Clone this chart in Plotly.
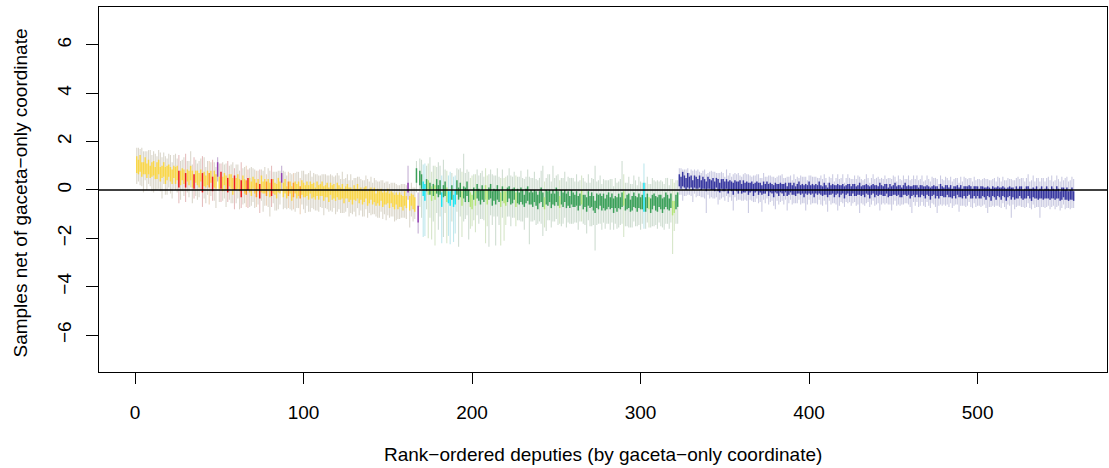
import plotly.graph_objects as go

# ---------------- data ----------------
# party codes per deputy, rank-ordered
party_a = ("YYYYYYYYYY" "YYYYYYYYYY" "YYYYYRYYYR" "YYYYRYYYYR" "YYYOYRYYPY"
           "RYYYRYYYRY" "YYRYYORYYY" "YOYRYYYOYY" "RYYYYYPYYY" "OYYOYYYOYY"
           "YYYYYYYYYY" "YYYYYYYYYY" "YYYYYYYYYY" "YYYYYYYYYY" "YYYYYYYYYY"
           "YYYYYYYYYY" "YPYYYY")
party_b = ("GPGGCCGLGL" "GLGGGCGGLC" "CGCCGGGLGG" "GGLLGLGGGG" "GLLGGGGGGG"
           "LGLLGGGGGL" "GGGGGGGGGG" "GGGGGGLGGG" "GGGGGLGGGG" "GGGGGGGGLG"
           "GGGGGGGGGG" "GGGGGGGGGG" "GGGLGGGGGG" "GGGGGCGGLG" "GGGGGGGGGG"
           "GGLLGG")
n_blue = 235

# centre of the inner interval
mid_a = [1.05,0.95,1.10,0.85,0.90,1.00,0.80,0.95,0.75,0.85,
         0.90,0.70,0.80,0.95,0.65,0.75,0.85,0.60,0.70,0.80,
         0.65,0.55,0.75,0.60,0.70,0.45,0.50,0.65,0.55,0.40,
         0.60,0.50,0.70,0.45,0.35,0.55,0.50,0.40,0.60,0.30,
         0.45,0.35,0.50,0.40,0.55,0.25,0.45,0.35,0.85,0.30,
         0.40,0.25,0.45,0.30,0.20,0.40,0.35,0.15,0.30,0.25,
         0.35,0.20,0.05,0.30,0.15,0.10,0.25,0.20,0.05,0.30,
         0.15,0.00,0.20,-0.05,0.25,0.10,0.15,0.05,0.20,0.00,
         0.10,0.15,0.05,-0.05,0.20,0.10,0.50,0.00,0.15,-0.10,
         0.05,0.10,-0.15,0.00,0.10,-0.05,0.05,-0.10,0.10,0.00,
         -0.05,0.05,-0.10,0.10,-0.05,0.00,-0.15,0.05,-0.10,0.00,
         0.05,-0.15,-0.05,0.00,-0.20,0.05,-0.10,-0.05,-0.20,0.00,
         -0.10,-0.15,-0.05,-0.25,-0.10,-0.05,-0.20,-0.15,-0.30,-0.10,
         -0.20,-0.05,-0.25,-0.15,-0.30,-0.20,-0.10,-0.35,-0.25,-0.15,
         -0.30,-0.20,-0.40,-0.25,-0.35,-0.20,-0.40,-0.30,-0.35,-0.25,
         -0.45,-0.30,-0.40,-0.50,-0.35,-0.50,-0.40,-0.45,-0.55,-0.35,
         -0.50,0.10,-0.55,-0.40,-0.50,-0.60]
mid_b = [0.60,-1.00,0.50,0.35,0.05,-0.10,0.20,0.10,0.05,-0.15,
         0.00,-0.10,0.15,-0.05,0.10,-0.40,-0.05,0.05,-0.20,-0.30,
         -0.35,-0.10,-0.45,-0.30,0.10,-0.15,0.00,-0.35,-0.10,-0.20,
         0.05,-0.25,-0.40,-0.50,-0.15,-0.35,-0.05,-0.20,-0.30,-0.10,
         -0.25,-0.10,-0.30,-0.15,-0.05,-0.35,-0.20,-0.30,-0.10,-0.25,
         -0.40,-0.15,-0.30,-0.35,-0.20,-0.10,-0.30,-0.25,-0.15,-0.40,
         -0.25,-0.35,-0.20,-0.30,-0.45,-0.25,-0.15,-0.35,-0.30,-0.40,
         -0.25,-0.35,-0.50,-0.30,-0.20,-0.40,-0.55,-0.30,-0.35,-0.25,
         -0.45,-0.30,-0.40,-0.20,-0.35,-0.50,-0.30,-0.40,-0.25,-0.45,
         -0.35,-0.50,-0.30,-0.40,-0.45,-0.35,-0.55,-0.40,-0.30,-0.50,
         -0.45,-0.60,-0.35,-0.50,-0.40,-0.55,-0.70,-0.45,-0.50,-0.40,
         -0.55,-0.45,-0.60,-0.50,-0.40,-0.55,-0.45,-0.65,-0.50,-0.60,
         -0.45,-0.55,-0.40,-0.35,-0.60,-0.50,-0.45,-0.65,-0.55,-0.40,
         -0.50,-0.60,-0.45,-0.55,-0.50,-0.30,-0.60,-0.45,-0.55,-0.65,
         -0.50,-0.40,-0.55,-0.60,-0.45,-0.50,-0.65,-0.55,-0.40,-0.50,
         -0.60,-0.45,-0.75,-0.70,-0.50,-0.40]
mid_c = [0.40,0.30,0.45,0.35,0.25,0.40,0.30,0.35,0.20,0.35,
         0.30,0.25,0.35,0.20,0.30,0.25,0.15,0.30,0.25,0.20,
         0.25,0.15,0.30,0.20,0.10,0.25,0.20,0.15,0.25,0.10,
         0.20,0.15,0.05,0.20,0.15,0.10,0.20,0.05,0.15,0.10,
         0.15,0.05,0.10,0.15,0.00,0.10,0.15,0.05,0.10,0.00,
         0.10,0.05,0.15,0.00,0.10,0.05,-0.05,0.10,0.05,0.00,
         0.10,0.05,0.00,0.10,-0.05,0.05,0.10,0.00,0.05,-0.05,
         0.05,0.10,0.00,0.05,-0.05,0.05,0.00,0.10,0.00,0.05,
         -0.05,0.05,0.00,0.10,0.00,-0.05,0.05,0.00,-0.10,0.05,
         0.00,0.05,-0.05,0.00,0.05,-0.05,0.00,0.05,-0.10,0.00,
         0.05,0.00,-0.05,0.05,0.00,-0.05,0.00,0.05,-0.05,0.00,
         -0.05,0.05,0.00,-0.10,0.00,0.05,-0.05,0.00,-0.05,0.05,
         0.00,-0.05,0.00,0.05,-0.10,0.00,-0.05,0.00,0.05,-0.05,
         0.00,-0.05,-0.10,0.00,0.05,-0.05,0.00,-0.10,-0.05,0.00,
         -0.05,0.00,-0.10,-0.05,0.00,-0.05,-0.10,0.00,-0.05,-0.15,
         -0.05,0.00,-0.10,-0.05,-0.15,0.00,-0.05,-0.10,-0.05,0.00,
         -0.10,-0.05,-0.15,-0.05,-0.10,0.00,-0.10,-0.05,-0.15,-0.05,
         -0.10,-0.05,0.00,-0.10,-0.15,-0.05,-0.10,-0.05,-0.15,-0.10,
         -0.05,-0.10,-0.15,-0.05,-0.10,-0.20,-0.05,-0.10,-0.15,-0.05,
         -0.10,-0.15,-0.05,-0.10,-0.20,-0.10,-0.05,-0.15,-0.10,-0.20,
         -0.10,-0.15,-0.05,-0.10,-0.20,-0.15,-0.10,-0.05,-0.15,-0.20,
         -0.10,-0.15,-0.10,-0.20,-0.15,-0.10,-0.20,-0.15,-0.10,-0.15,
         -0.20,-0.10,-0.15,-0.20,-0.10,-0.15,-0.25,-0.15,-0.10,-0.20,
         -0.15,-0.25,-0.20,-0.15,-0.25]

# half-length of the inner (thick) interval
half_a = [0.35,0.3,0.35,0.3,0.25,0.35,0.3,0.3,0.25,0.3,
          0.3,0.25,0.35,0.3,0.3,0.25,0.3,0.35,0.3,0.25,
          0.3,0.3,0.25,0.35,0.3,0.35,0.3,0.25,0.3,0.3,
          0.25,0.3,0.3,0.35,0.3,0.25,0.3,0.3,0.25,0.4,
          0.3,0.25,0.3,0.3,0.25,0.3,0.35,0.3,0.3,0.25,
          0.35,0.3,0.25,0.3,0.3,0.25,0.3,0.35,0.3,0.25,
          0.3,0.25,0.35,0.3,0.3,0.3,0.25,0.3,0.3,0.25,
          0.3,0.3,0.25,0.3,0.35,0.25,0.3,0.3,0.25,0.3,
          0.35,0.3,0.25,0.3,0.3,0.25,0.2,0.3,0.3,0.25,
          0.3,0.25,0.3,0.3,0.25,0.3,0.3,0.25,0.3,0.3,
          0.25,0.3,0.3,0.25,0.3,0.3,0.25,0.3,0.3,0.25,
          0.3,0.3,0.25,0.3,0.3,0.25,0.3,0.3,0.25,0.3,
          0.3,0.25,0.3,0.3,0.25,0.3,0.3,0.25,0.3,0.3,
          0.25,0.3,0.3,0.25,0.3,0.3,0.25,0.3,0.3,0.25,
          0.3,0.3,0.25,0.3,0.3,0.25,0.3,0.3,0.25,0.3,
          0.3,0.25,0.3,0.3,0.25,0.3,0.3,0.25,0.3,0.3,
          0.25,0.2,0.3,0.25,0.3,0.3]
half_b = [0.3,0.35,0.3,0.3,0.3,0.35,0.25,0.3,0.25,0.3,
          0.25,0.3,0.3,0.25,0.3,0.3,0.25,0.3,0.3,0.25,
          0.3,0.3,0.25,0.3,0.3,0.25,0.3,0.3,0.25,0.3,
          0.3,0.25,0.3,0.3,0.25,0.3,0.3,0.25,0.3,0.3,
          0.25,0.3,0.3,0.25,0.3,0.3,0.25,0.3,0.3,0.25,
          0.3,0.3,0.25,0.3,0.3,0.25,0.3,0.3,0.25,0.3,
          0.3,0.25,0.3,0.3,0.25,0.3,0.3,0.25,0.3,0.3,
          0.25,0.3,0.3,0.25,0.3,0.3,0.25,0.3,0.3,0.25,
          0.3,0.3,0.25,0.3,0.3,0.25,0.3,0.3,0.25,0.3,
          0.3,0.25,0.3,0.3,0.25,0.3,0.3,0.25,0.3,0.3,
          0.25,0.3,0.3,0.25,0.3,0.3,0.25,0.3,0.3,0.25,
          0.3,0.3,0.25,0.3,0.3,0.25,0.3,0.3,0.25,0.3,
          0.3,0.25,0.3,0.3,0.25,0.3,0.3,0.25,0.3,0.3,
          0.25,0.3,0.3,0.25,0.3,0.6,0.3,0.3,0.25,0.3,
          0.3,0.25,0.3,0.3,0.25,0.3,0.3,0.25,0.3,0.3,
          0.25,0.3,0.3,0.25,0.3,0.3]
half_c = [0.25,0.25,0.3,0.25,0.25,0.3,0.25,0.25,0.2,0.25,
          0.25,0.2,0.25,0.2,0.25,0.2,0.2,0.25,0.2,0.2,
          0.25,0.2,0.2,0.25,0.2,0.2,0.25,0.2,0.2,0.25,
          0.2,0.2,0.25,0.2,0.2,0.25,0.2,0.2,0.25,0.2,
          0.2,0.25,0.2,0.2,0.25,0.2,0.2,0.25,0.2,0.2,
          0.25,0.2,0.2,0.25,0.2,0.2,0.25,0.2,0.2,0.25,
          0.2,0.2,0.25,0.2,0.2,0.25,0.2,0.2,0.25,0.2,
          0.2,0.25,0.2,0.2,0.25,0.2,0.2,0.25,0.2,0.2,
          0.25,0.2,0.2,0.25,0.2,0.2,0.25,0.2,0.2,0.25,
          0.2,0.2,0.25,0.2,0.2,0.25,0.2,0.2,0.25,0.2,
          0.2,0.25,0.2,0.2,0.25,0.2,0.2,0.25,0.2,0.2,
          0.25,0.2,0.2,0.25,0.2,0.2,0.25,0.2,0.2,0.25,
          0.2,0.2,0.25,0.2,0.2,0.25,0.2,0.2,0.25,0.2,
          0.2,0.25,0.2,0.2,0.25,0.2,0.2,0.25,0.2,0.2,
          0.25,0.2,0.2,0.25,0.2,0.2,0.25,0.2,0.2,0.25,
          0.2,0.2,0.25,0.2,0.2,0.25,0.2,0.2,0.25,0.2,
          0.2,0.25,0.2,0.2,0.25,0.2,0.2,0.25,0.2,0.2,
          0.25,0.2,0.2,0.25,0.2,0.2,0.25,0.2,0.2,0.25,
          0.2,0.2,0.25,0.2,0.2,0.25,0.2,0.2,0.25,0.2,
          0.2,0.25,0.2,0.2,0.25,0.2,0.2,0.25,0.2,0.2,
          0.25,0.2,0.2,0.25,0.2,0.2,0.25,0.2,0.2,0.25,
          0.2,0.2,0.25,0.2,0.2,0.25,0.2,0.2,0.25,0.2,
          0.2,0.25,0.2,0.2,0.25,0.2,0.2,0.25,0.2,0.2,
          0.25,0.2,0.2,0.25,0.2]

# extent of the outer (thin) interval above / below the centre
up_a = [0.7,0.8,0.6,0.9,0.7,0.6,0.8,0.7,0.9,0.6,
        0.7,0.8,0.6,0.7,0.9,0.6,0.7,0.8,0.6,0.7,
        0.8,0.6,0.7,0.9,0.6,1.0,0.7,0.6,0.8,1.1,
        0.6,0.7,0.9,0.6,1.0,0.7,0.6,0.8,0.7,1.1,
        0.9,0.6,0.7,0.8,0.6,1.0,0.7,0.6,0.5,0.8,
        0.7,0.9,0.6,0.8,1.0,0.6,0.7,1.0,0.6,0.8,
        0.7,0.6,1.1,0.6,0.8,0.9,0.6,0.7,0.9,0.6,
        0.7,0.8,0.6,0.9,0.6,0.7,0.8,0.6,0.7,0.8,
        0.9,0.6,0.7,0.8,0.6,0.7,0.5,0.8,0.6,0.7,
        0.7,0.6,0.8,0.7,0.6,0.8,0.7,0.6,0.7,0.8,
        0.7,0.6,0.8,0.7,0.6,0.7,0.8,0.6,0.7,0.6,
        0.6,0.8,0.7,0.6,0.8,0.6,0.7,0.6,0.8,0.7,
        0.7,0.6,0.8,0.7,0.6,0.7,0.6,0.8,0.7,0.6,
        0.7,0.6,0.8,0.6,0.7,0.6,0.7,0.8,0.6,0.7,
        0.6,0.7,0.8,0.6,0.7,0.6,0.8,0.6,0.7,0.6,
        0.7,0.6,0.7,0.8,0.6,0.7,0.6,0.7,0.8,0.6,
        0.7,0.9,0.6,0.7,0.6,0.7]
down_a = [0.8,0.6,0.9,0.7,1.0,0.6,0.8,0.7,0.6,0.9,
          1.0,0.7,0.8,0.9,0.7,1.1,0.6,0.8,0.9,0.7,
          0.8,0.9,0.7,0.6,0.8,1.0,0.9,0.7,0.8,0.9,
          0.7,0.8,0.6,1.0,0.7,0.8,0.9,0.7,0.6,1.0,
          0.8,0.9,0.7,1.0,0.8,0.7,0.9,1.1,0.5,0.8,
          0.9,0.7,0.8,1.0,0.7,0.8,0.9,0.7,1.1,0.8,
          0.7,1.0,0.8,0.9,0.7,0.8,1.0,0.9,0.7,0.8,
          0.9,0.7,0.8,0.9,0.7,1.0,0.8,0.7,0.9,1.1,
          0.8,0.7,0.9,0.8,1.0,0.7,0.5,0.8,0.9,0.7,
          0.8,0.9,0.7,0.8,1.0,0.7,0.8,0.9,0.7,0.8,
          0.9,0.7,0.8,1.0,0.7,0.8,0.7,0.9,0.8,0.7,
          0.8,0.9,0.7,0.8,0.7,0.9,0.8,0.7,0.8,0.9,
          0.7,0.8,0.9,0.7,0.8,0.7,0.9,0.8,0.7,0.8,
          0.9,0.7,0.8,0.7,0.8,0.9,0.7,0.8,0.7,0.9,
          0.7,0.8,0.7,0.9,0.8,0.7,0.8,0.7,0.9,0.8,
          0.7,0.8,0.7,0.8,0.9,0.7,0.8,0.7,0.6,0.8,
          0.7,0.5,1.0,0.7,0.8,0.6]
up_b = [0.6,0.9,0.8,0.9,1.0,1.2,0.8,1.0,1.3,0.9,
        1.0,1.1,0.8,1.2,0.9,1.0,1.3,0.8,1.0,0.9,
        1.1,0.8,1.0,0.9,0.8,1.0,0.9,1.1,1.6,0.9,
        0.8,1.0,0.9,1.1,0.8,1.0,0.9,0.8,1.0,0.9,
        0.8,1.0,0.9,0.8,0.9,1.0,0.8,0.9,1.0,0.8,
        0.9,1.0,0.8,0.9,0.8,1.0,0.9,0.8,0.9,1.0,
        0.8,0.9,1.0,0.8,0.9,0.8,1.0,0.9,0.8,0.9,
        1.0,0.8,0.9,0.8,1.0,1.4,0.9,0.8,1.0,0.9,
        0.8,1.3,0.9,0.8,1.0,0.9,0.8,0.9,1.0,0.8,
        0.9,1.0,0.8,0.9,0.8,1.0,0.9,0.8,0.9,1.0,
        0.8,0.9,1.0,0.8,0.9,1.0,1.7,0.8,0.9,1.0,
        0.8,0.9,1.0,0.9,0.8,1.0,0.9,0.8,1.0,0.9,
        0.8,1.0,1.6,1.0,0.9,0.8,1.0,0.9,0.8,1.0,
        0.9,0.8,1.0,0.9,0.8,1.4,0.9,1.0,0.8,0.9,
        1.0,0.8,0.9,1.0,0.8,0.9,1.0,0.8,0.9,1.0,
        0.8,0.9,1.2,1.0,0.9,0.8]
down_b = [0.7,0.8,1.2,1.5,2.0,1.8,1.0,2.1,1.2,1.9,
          1.3,2.2,1.1,1.6,1.2,1.8,1.9,1.0,2.0,1.6,
          1.9,1.2,1.7,1.5,1.0,2.2,1.1,1.6,1.2,1.0,
          1.1,1.8,1.2,1.0,1.1,1.4,1.0,1.2,0.9,1.1,
          1.0,2.1,1.2,2.2,1.0,1.1,0.9,2.0,1.0,1.2,
          1.9,1.0,1.8,1.1,0.9,1.0,1.2,0.9,1.0,1.1,
          1.0,0.9,1.1,1.0,1.2,0.9,1.0,1.9,1.0,0.9,
          1.0,1.1,0.9,1.0,1.2,1.5,1.0,1.4,0.9,1.0,
          1.1,1.0,0.9,1.0,1.1,0.9,1.2,1.0,0.9,1.1,
          1.0,0.9,1.1,1.0,0.9,1.0,1.1,0.9,1.0,0.9,
          1.0,1.2,0.9,1.0,1.1,0.9,1.8,1.0,0.9,1.0,
          1.1,0.9,1.0,0.9,1.0,1.1,0.9,1.0,0.9,1.0,
          1.1,0.9,1.0,1.6,0.9,1.0,1.1,0.9,1.0,0.9,
          1.0,0.9,1.0,1.1,0.9,1.3,1.0,0.9,1.0,0.9,
          1.0,1.1,0.9,1.0,0.9,1.0,0.9,1.1,1.0,0.9,
          1.0,0.9,1.9,1.0,0.9,1.0]
up_c = [0.5,0.6,0.4,0.5,0.6,0.5,0.4,0.5,0.6,0.5,
        0.5,0.6,0.4,0.5,0.5,0.6,0.5,0.4,0.5,0.6,
        0.5,0.6,0.4,0.5,0.6,0.5,0.5,0.4,0.6,0.5,
        0.5,0.4,0.6,0.5,0.5,0.6,0.4,0.5,0.5,0.6,
        0.5,0.6,0.5,0.4,0.6,0.5,0.5,0.6,0.4,0.5,
        0.6,0.5,0.4,0.6,0.5,0.5,0.6,0.4,0.5,0.6,
        0.5,0.6,0.5,0.4,0.6,0.5,0.5,0.4,0.6,0.5,
        0.5,0.4,0.6,0.5,0.6,0.5,0.4,0.5,0.6,0.5,
        0.6,0.5,0.5,0.4,0.6,0.5,0.6,0.5,0.4,0.5,
        0.5,0.6,0.4,0.5,0.6,0.5,0.5,0.6,0.4,0.5,
        0.6,0.5,0.5,0.4,0.6,0.5,0.6,0.5,0.5,0.4,
        0.5,0.6,0.5,0.4,0.5,0.6,0.5,0.5,0.6,0.4,
        0.5,0.5,0.6,0.4,0.6,0.5,0.5,0.6,0.5,0.4,
        0.6,0.5,0.5,0.6,0.4,0.5,0.6,0.5,0.5,0.6,
        0.5,0.6,0.5,0.5,0.6,0.4,0.5,0.6,0.5,0.5,
        0.6,0.5,0.6,0.5,0.4,0.6,0.5,0.5,0.6,0.5,
        0.5,0.6,0.5,0.5,0.6,0.5,0.4,0.6,0.5,0.6,
        0.6,0.5,0.5,0.6,0.5,0.6,0.5,0.5,0.6,0.5,
        0.5,0.6,0.6,0.5,0.5,0.6,0.5,0.6,0.5,0.6,
        0.6,0.5,0.6,0.5,0.6,0.6,0.5,0.6,0.5,0.6,
        0.6,0.7,0.5,0.6,0.7,0.5,0.6,0.7,0.5,0.6,
        0.7,0.5,0.6,0.7,0.5,0.6,0.7,0.5,0.6,0.7,
        0.6,0.7,0.5,0.6,0.7,0.6,0.6,0.7,0.5,0.7,
        0.7,0.6,0.6,0.7,0.7]
down_c = [0.6,0.5,0.9,0.6,0.5,0.6,0.5,0.6,0.7,0.5,
          0.6,0.5,0.6,0.5,0.6,0.6,1.1,0.5,0.6,0.5,
          0.6,0.5,0.6,0.8,0.5,0.6,0.5,0.6,0.5,0.6,
          0.5,0.6,0.9,0.5,0.6,0.5,0.6,0.5,0.6,0.5,
          0.6,1.0,0.5,0.6,0.5,0.6,0.5,0.6,0.6,0.9,
          0.5,0.6,0.5,0.6,0.6,0.5,0.6,0.9,0.5,0.6,
          0.6,0.5,0.6,0.5,0.8,0.6,0.5,0.6,0.6,0.5,
          0.6,0.5,0.6,0.6,0.5,0.9,0.6,0.5,0.6,0.6,
          0.5,0.6,0.6,0.5,0.6,0.6,0.5,0.6,0.8,0.5,
          0.6,0.6,0.5,0.6,0.9,0.6,0.5,0.6,0.6,0.5,
          0.6,0.5,0.6,0.6,0.5,0.6,0.6,1.0,0.5,0.6,
          0.6,0.6,0.5,0.6,0.6,0.5,0.6,0.6,0.5,0.9,
          0.6,0.5,0.6,0.6,0.5,0.6,0.8,0.6,0.5,0.6,
          0.6,0.6,0.5,0.6,0.6,0.5,0.6,0.6,0.9,0.5,
          0.6,0.5,0.6,0.6,0.5,0.6,0.6,0.5,0.6,0.6,
          0.5,0.6,0.6,0.9,0.5,0.6,0.6,0.5,0.6,0.6,
          0.6,0.5,0.6,0.6,0.5,0.6,0.8,0.6,0.5,0.6,
          0.6,0.6,0.5,0.6,0.6,0.5,0.6,0.6,0.5,0.6,
          0.6,0.5,0.6,0.9,0.6,0.5,0.6,0.6,0.5,0.6,
          0.6,0.6,0.5,0.6,0.6,0.5,0.6,1.0,0.5,0.6,
          0.6,0.5,0.6,0.6,0.5,0.6,0.6,0.5,0.6,0.6,
          0.5,0.6,0.6,0.5,1.0,0.6,0.5,0.6,0.6,0.5,
          0.6,0.6,0.5,0.6,0.6,0.5,0.6,0.6,0.5,0.6,
          0.6,0.5,0.6,0.6,0.5]

x_ticks = [0, 100, 200, 300, 400, 500]
y_ticks = [-6, -4, -2, 0, 2, 4, 6]

# ---------------- assemble ----------------
party = list(party_a) + list(party_b) + ["B"] * n_blue
mid = mid_a + mid_b + mid_c
half = half_a + half_b + half_c
up = up_a + up_b + up_c
down = down_a + down_b + down_c
n = len(party)
for name, arr in [("mid", mid), ("half", half), ("up", up), ("down", down)]:
    assert len(arr) == n, (name, len(arr), n)

inner_col = {"Y": "rgba(255,212,40,0.8)", "R": "#EE1C1C", "P": "#9440B4", "O": "#FF9A28",
             "G": "rgba(46,154,78,0.92)", "L": "#B4E47A", "C": "#1EE4F2", "B": "rgba(42,42,154,0.92)"}
outer_col = {"Y": "rgba(160,150,120,0.38)", "R": "rgba(200,110,110,0.45)",
             "P": "rgba(140,100,170,0.5)", "O": "rgba(210,160,110,0.45)",
             "G": "rgba(130,165,135,0.38)", "L": "rgba(165,200,135,0.45)",
             "C": "rgba(130,210,220,0.5)", "B": "rgba(110,110,175,0.36)"}
order = ["Y", "R", "O", "P", "G", "L", "C", "B"]

fig = go.Figure()

def seg_trace(code, lo_of, hi_of, color, width):
    xs, ys = [], []
    for i in range(n):
        if party[i] == code:
            xs += [i + 1, i + 1, None]
            ys += [lo_of(i), hi_of(i), None]
    return go.Scatter(x=xs, y=ys, mode="lines", line=dict(color=color, width=width),
                      hoverinfo="skip", showlegend=False)

for c in order:
    fig.add_trace(seg_trace(c, lambda i: mid[i] - down[i], lambda i: mid[i] + up[i],
                            outer_col[c], 1.1))
for c in order:
    fig.add_trace(seg_trace(c, lambda i: mid[i] - half[i], lambda i: mid[i] + half[i],
                            inner_col[c], 1.5))

font = dict(family="Liberation Sans, Arial, Helvetica, sans-serif", size=19, color="black")

fig.add_shape(type="line", xref="paper", yref="y", x0=0, x1=1, y0=0, y1=0,
              line=dict(color="black", width=1.3), layer="above")

fig.update_layout(
    width=1109, height=468,
    margin=dict(l=99, r=2, t=7, b=96),
    paper_bgcolor="white", plot_bgcolor="white",
    font=font,
    xaxis=dict(range=[-21.4, 576.8], tickvals=x_ticks, ticktext=[str(v) for v in x_ticks],
               ticks="outside", ticklen=11, tickwidth=1, tickcolor="black",
               showline=True, linecolor="black", linewidth=1, mirror=True,
               showgrid=False, zeroline=False, ticklabelstandoff=12, tickfont=font),
    yaxis=dict(range=[-7.53, 7.57], tickvals=y_ticks,
               ticktext=[("\u2212" + str(-v)) if v < 0 else str(v) for v in y_ticks],
               ticks="outside", ticklen=12, tickwidth=1, tickcolor="black",
               showline=True, linecolor="black", linewidth=1, mirror=True,
               showgrid=False, zeroline=False, tickangle=-90, ticklabelstandoff=7,
               tickfont=font),
    annotations=[
        dict(text="Rank\u2212ordered deputies (by gaceta\u2212only coordinate)",
             xref="paper", yref="paper", x=0.5, y=-0.227, xanchor="center", yanchor="middle",
             showarrow=False, font=font),
        dict(text="Samples net of gaceta\u2212only coordinate",
             xref="paper", yref="paper", x=-0.078, y=0.49, xanchor="center", yanchor="middle",
             textangle=-90, showarrow=False, font=font),
    ],
)

fig.write_html("out.html", config={"displayModeBar": False},
               post_script="document.body.style.margin='0';")
